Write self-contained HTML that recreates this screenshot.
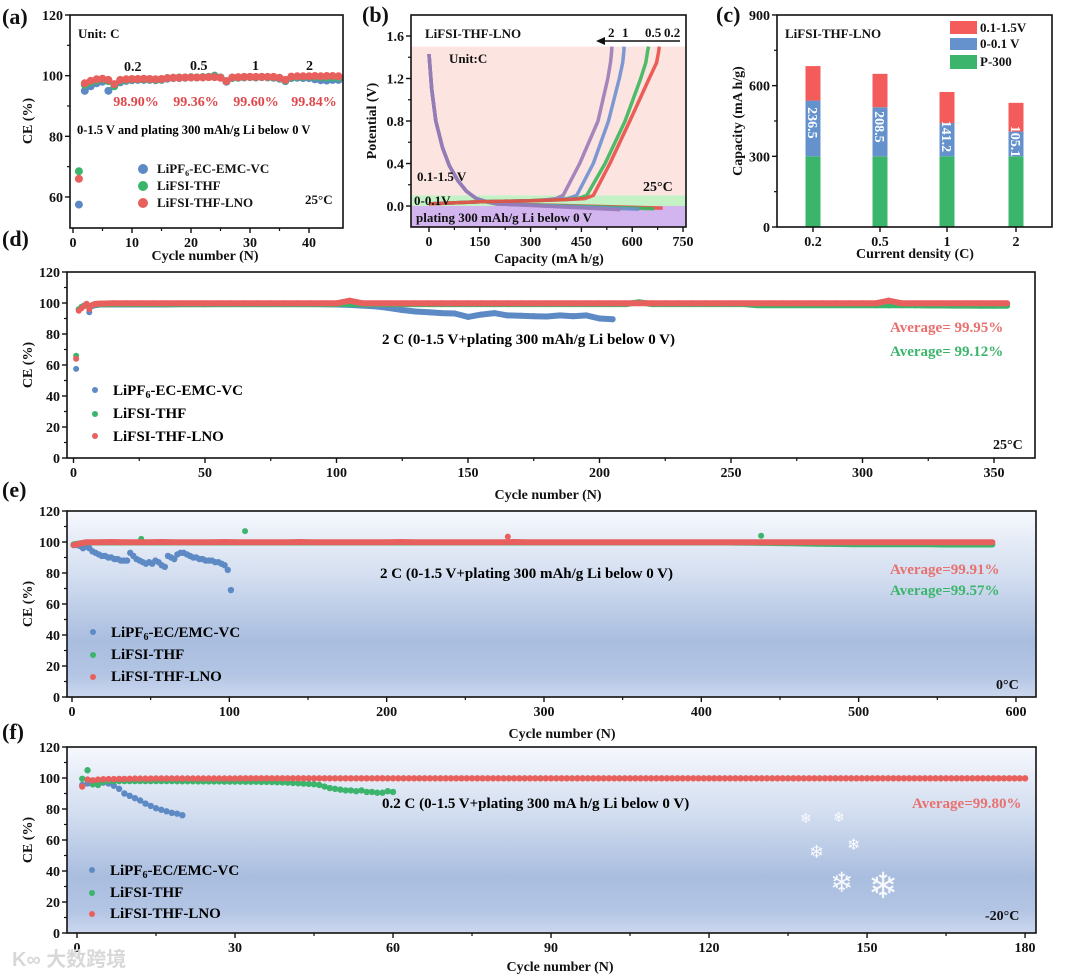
<!DOCTYPE html>
<html><head><meta charset="utf-8"><title>CE cycling figure</title>
<style>
html,body{margin:0;padding:0;background:#fff;}
svg{display:block;font-family:"Liberation Serif","Noto Serif CJK SC",serif;font-weight:bold;}
.t{font-size:14px;fill:#111;}
.s{font-size:13px;fill:#111;}
.pl{font-size:22px;fill:#111;}
</style></head>
<body>
<svg id="fig" width="1080" height="977" viewBox="0 0 1080 977" xmlns="http://www.w3.org/2000/svg">
<defs>
<linearGradient id="cold" x1="0" y1="0" x2="0" y2="1">
<stop offset="0" stop-color="#f6f8fd"/><stop offset="0.35" stop-color="#d3def0"/><stop offset="0.7" stop-color="#a9bddf"/><stop offset="0.88" stop-color="#b3c5e4"/><stop offset="1" stop-color="#cbd7ee"/>
</linearGradient>
</defs>
<rect x="67" y="511" width="969" height="186" fill="url(#cold)"/>
<rect x="67" y="747" width="969" height="186" fill="url(#cold)"/>
<!-- panel b bands -->
<rect x="411" y="46.6" width="275" height="148.8" fill="#fce4e1"/>
<rect x="411" y="195.4" width="275" height="10.6" fill="#c4f2c6"/>
<rect x="411" y="206" width="275" height="21" fill="#d2b4ee"/>
<g id="marks"></g>
<g id="axes"></g>

<!-- panel labels -->
<text class="pl" x="2" y="24">(a)</text>
<text class="pl" x="362" y="22">(b)</text>
<text class="pl" x="716" y="22">(c)</text>
<text class="pl" x="2" y="246">(d)</text>
<text class="pl" x="2" y="497">(e)</text>
<text class="pl" x="2" y="739">(f)</text>

<!-- panel a text -->
<text class="s" x="78" y="38">Unit: C</text>
<text class="t" x="124" y="71">0.2</text>
<text class="t" x="190" y="70">0.5</text>
<text class="t" x="252" y="70">1</text>
<text class="t" x="306" y="70">2</text>
<g font-size="14" fill="#e0474a" text-anchor="middle">
<text x="136" y="106">98.90%</text>
<text x="196" y="106">99.36%</text>
<text x="256" y="106">99.60%</text>
<text x="314" y="106">99.84%</text>
</g>
<text x="77" y="134" font-size="12.5">0-1.5 V and plating 300 mAh/g Li below 0 V</text>
<circle cx="143" cy="169" r="5" fill="#5d8ac4"/>
<circle cx="143" cy="186" r="5" fill="#3cb56c"/>
<circle cx="143" cy="203" r="5" fill="#e8605e"/>
<text class="s" x="157" y="173">LiPF<tspan font-size="8" dy="3">6</tspan><tspan dy="-3">-EC-EMC-VC</tspan></text>
<text class="s" x="157" y="190">LiFSI-THF</text>
<text class="s" x="157" y="207">LiFSI-THF-LNO</text>
<text class="s" x="305" y="204">25°C</text>
<text class="t" text-anchor="middle" transform="translate(32,121) rotate(-90)">CE (%)</text>
<text class="t" x="205" y="260" text-anchor="middle">Cycle number (N)</text>

<!-- panel b text -->
<text class="s" x="425" y="38">LiFSI-THF-LNO</text>
<text class="s" x="449" y="63" fill="#5a2a22">Unit:C</text>
<line x1="680" y1="41" x2="603" y2="41" stroke="#111" stroke-width="1.5"/>
<polygon points="596,41 605,37 605,45" fill="#111"/>
<text class="s" x="608" y="37">2</text>
<text class="s" x="622" y="37">1</text>
<text class="s" x="645" y="37">0.5</text>
<text class="s" x="664" y="37">0.2</text>
<text class="s" x="417" y="181">0.1-1.5 V</text>
<text class="t" x="643" y="191">25°C</text>
<text class="s" x="414" y="205" fill="#1a7a2a">0-0.1V</text>
<text class="s" x="416" y="222" fill="#4a2a7a">plating 300 mAh/g Li below 0 V</text>
<text class="t" text-anchor="middle" transform="translate(376,121) rotate(-90)">Potential (V)</text>
<text class="t" x="549" y="263" text-anchor="middle">Capacity (mA h/g)</text>

<!-- panel c text -->
<text class="s" x="785" y="38">LiFSI-THF-LNO</text>
<rect x="950" y="21" width="27" height="13" fill="#f45b5b"/>
<rect x="950" y="38" width="27" height="12" fill="#6592cd"/>
<rect x="950" y="55" width="27" height="14" fill="#3cb56c"/>
<text class="s" x="980" y="32">0.1-1.5V</text>
<text class="s" x="980" y="48">0-0.1 V</text>
<text class="s" x="980" y="66">P-300</text>
<text class="t" text-anchor="middle" transform="translate(742,121) rotate(-90)">Capacity (mA h/g)</text>
<text class="t" x="915" y="258" text-anchor="middle">Current density (C)</text>

<!-- panel d text -->
<text font-size="15" x="382" y="344">2 C (0-1.5 V+plating 300 mAh/g Li below 0 V)</text>
<text font-size="15" x="890" y="332" fill="#e8706e">Average= 99.95%</text>
<text font-size="15" x="890" y="356" fill="#3cb56c">Average= 99.12%</text>
<text class="t" x="993" y="449">25°C</text>
<circle cx="95" cy="390" r="3" fill="#5d8ac4"/>
<circle cx="95" cy="414" r="3" fill="#3cb56c"/>
<circle cx="95" cy="436" r="3" fill="#e8605e"/>
<text font-size="15" x="113" y="395">LiPF<tspan font-size="10" dy="3">6</tspan><tspan dy="-3">-EC-EMC-VC</tspan></text>
<text font-size="15" x="113" y="418">LiFSI-THF</text>
<text font-size="15" x="113" y="441">LiFSI-THF-LNO</text>
<text class="t" text-anchor="middle" transform="translate(32,365) rotate(-90)">CE (%)</text>
<text class="t" x="548" y="499" text-anchor="middle">Cycle number (N)</text>

<!-- panel e text -->
<text font-size="15" x="380" y="578">2 C (0-1.5 V+plating 300 mAh/g Li below 0 V)</text>
<text font-size="15" x="890" y="574" fill="#e8706e">Average=99.91%</text>
<text font-size="15" x="890" y="595" fill="#3cb56c">Average=99.57%</text>
<text class="t" x="996" y="689">0°C</text>
<circle cx="93" cy="632" r="3" fill="#5d8ac4"/>
<circle cx="93" cy="655" r="3" fill="#3cb56c"/>
<circle cx="93" cy="677" r="3" fill="#e8605e"/>
<text font-size="15" x="111" y="637">LiPF<tspan font-size="10" dy="3">6</tspan><tspan dy="-3">-EC/EMC-VC</tspan></text>
<text font-size="15" x="111" y="659">LiFSI-THF</text>
<text font-size="15" x="111" y="681">LiFSI-THF-LNO</text>
<text class="t" text-anchor="middle" transform="translate(32,604) rotate(-90)">CE (%)</text>
<text class="t" x="562" y="738" text-anchor="middle">Cycle number (N)</text>

<!-- panel f text -->
<text font-size="15" x="382" y="808">0.2 C (0-1.5 V+plating 300 mA h/g Li below 0 V)</text>
<text font-size="15" x="912" y="808" fill="#e8706e">Average=99.80%</text>
<text class="t" x="985" y="920">-20°C</text>
<circle cx="92" cy="870" r="3" fill="#5d8ac4"/>
<circle cx="92" cy="893" r="3" fill="#3cb56c"/>
<circle cx="92" cy="914" r="3" fill="#e8605e"/>
<text font-size="15" x="110" y="875">LiPF<tspan font-size="10" dy="3">6</tspan><tspan dy="-3">-EC/EMC-VC</tspan></text>
<text font-size="15" x="110" y="897">LiFSI-THF</text>
<text font-size="15" x="110" y="918">LiFSI-THF-LNO</text>
<text class="t" text-anchor="middle" transform="translate(32,840) rotate(-90)">CE (%)</text>
<text class="t" x="560" y="971" text-anchor="middle">Cycle number (N)</text>
<g fill="#ffffff" font-family="DejaVu Sans, sans-serif" font-weight="normal" opacity="0.9">
<text x="800" y="823" font-size="14">❄</text>
<text x="833" y="822" font-size="14">❄</text>
<text x="809" y="858" font-size="18">❄</text>
<text x="847" y="850" font-size="16">❄</text>
<text x="830" y="892" font-size="28">❄</text>
<text x="868" y="898" font-size="36">❄</text>
</g>
<text x="12" y="966" font-size="20" fill="#d8d8d8" font-family="Liberation Sans, Noto Sans CJK SC, sans-serif">K∞ 大数跨境</text>
</svg>

<script>
// ---------- data ----------
// (a) rate test, cycles 1..45
const aPF6 = [57.5,95,96.5,97.5,98,95,96.8,97.8,98.3,98.5,98.6,98.6,98.6,98.5,98.6,99,99.2,99.2,99.3,99.4,99.4,99.5,99.6,100,99.4,98,99.2,99.3,99.4,99.5,99.4,99.5,99.4,99.3,99,98.2,99.2,99.3,99.2,99.2,98.8,98.5,98.4,98.6,98.6];
const aTHF = [68.5,97,97.8,98.4,98.8,98.2,96.5,98.3,98.6,98.7,98.8,98.8,98.8,98.6,98.7,99.2,99.3,99.4,99.4,99.5,99.4,99.5,99.6,99.8,99.4,98.2,99.3,99.4,99.5,99.6,99.5,99.6,99.5,99.5,99.2,98.4,99.5,99.6,99.6,99.7,99.6,99.5,99.4,99.4,99.4];
const aLNO = [66,97.5,98.3,98.8,99,98.6,97.2,98.6,98.8,98.9,98.9,99,98.9,98.8,98.9,99.2,99.3,99.3,99.4,99.4,99.4,99.4,99.5,99.5,99.3,98.2,99.4,99.5,99.6,99.6,99.6,99.6,99.6,99.6,99.3,98.6,99.7,99.8,99.8,99.8,99.9,99.8,99.9,99.9,99.8];

// (b) voltage profiles
const bRates = ['0.2','0.5','1','2'];
const bDisCap = [0,8,20,40,60,85,110,140,170,200];
const bDisV = [1.43,1.1,0.8,0.55,0.38,0.24,0.14,0.07,0.04,0.02];
const bPlateEnd = [690,665,620,565];
const bPlateV = [-0.02,-0.025,-0.03,-0.035];
const bChgV = [0.02,0.04,0.05,0.06,0.07,0.1,0.4,0.8,1.2,1.35,1.45,1.5];
const bChgCap02 = [0,150,300,400,460,485,534,593,650,672,678,680];
const bChgCap05 = [0,150,300,400,440,466,520,579,625,640,645,648];
const bChgCap1 = [0,150,300,380,410,436,485,530,562,572,575,576];
const bChgCap2 = [0,150,300,350,375,396,445,499,528,536,539,540];

// (c) capacity breakdown
const cRates = ['0.2','0.5','1','2'];
const cP300 = [300,300,300,300];
const cLow = [236.5,208.5,141.2,105.1];
const cTotal = [683,650,573,527];

// (d) 25°C, cycles 1..10 then every 5 cycles from 15
const dLNO = [64,95,96.5,98,99.5,96,98.5,99.3,99.5,99.6,
 99.8,99.8,99.8,99.8,99.8,99.8,99.8,99.8,99.8,99.8,99.8,99.8,99.8,99.8,99.8,99.8,99.8,99.8,101.5,99.8,
 99.8,99.8,99.8,99.8,99.8,99.8,99.8,99.8,99.8,99.8,99.8,99.8,99.8,99.8,99.8,99.8,99.8,99.8,99.8,99.8,
 99.8,99.8,99.8,99.8,99.8,99.8,99.8,99.8,99.8,99.8,99.8,99.8,99.8,99.8,99.8,99.8,99.8,99.8,99.8,101.5,
 99.8,99.8,99.8,99.8,99.8,99.8,99.8,99.8,99.8];
const dTHF = [66,96,97.5,98.5,99,97,98.5,99,99.1,99.2,
 99.3,99.3,99.3,99.3,99.3,99.3,99.3,99.3,99.3,99.3,99.3,99.3,99.3,99.3,99.3,99.3,99.3,99.3,99.3,99.3,
 99.3,99.3,99.3,99.3,99.3,99.3,99.3,99.3,99.3,99.3,99.3,99.3,99.3,99.3,99.3,99.3,99.3,99.3,99.3,99.3,
 100.5,99.3,99.3,99.3,99.3,99.3,99.3,99.3,99.3,98.6,98.6,98.6,98.6,98.6,98.6,98.6,98.6,98.6,98.5,98.5,
 98.5,98.5,98.4,98.4,98.3,98.3,98.2,98.2,98.2];
const dPF6 = [57.5,96,97,98,98.5,94,98,98.5,98.8,99,
 99,99,99,99,99,99.2,99.2,99.2,99.3,99.3,99.3,99.3,99.3,99.3,99.3,99.3,99.2,99,
 98.8,98.3,97.8,96.8,95.5,94.5,94,93.5,93.2,91,92.5,93.5,92,91.8,91.5,91.3,92,91.5,92,90,89.5];

// (e) 0°C, LNO/THF every 8 cycles from 1; PF6 every 2 cycles from 1
const eLNO = [98,99.9,99.9,100,99.9,99.9,99.9,100,99.9,99.9,99.9,99.9,100,99.9,99.9,99.9,99.9,99.9,100,99.9,
 99.9,99.9,99.9,99.9,99.9,99.9,100,99.9,99.9,99.9,99.9,99.9,99.9,99.9,99.9,100,99.9,99.9,99.9,99.9,
 99.9,99.9,99.9,99.9,99.9,99.9,99.9,99.9,99.9,99.9,99.9,99.9,99.9,99.9,99.9,99.9,99.9,99.9,99.9,99.9,
 99.9,99.9,99.9,99.8,99.8,99.8,99.8,99.8,99.8,99.8,99.8,99.8,99.8,99.8];
const eTHF = [98.5,99.7,99.7,99.7,99.7,99.7,99.7,99.7,99.7,99.7,99.7,99.7,99.7,99.7,99.7,99.7,99.7,99.7,99.7,99.7,
 99.7,99.7,99.7,99.7,99.7,99.7,99.7,99.7,99.7,99.7,99.7,99.7,99.7,99.7,99.7,99.7,99.7,99.7,99.7,99.7,
 99.7,99.7,99.7,99.7,99.7,99.7,99.7,99.7,99.7,99.7,99.7,99.7,99.7,99.6,99.5,99.4,99.3,99.2,99,98.9,
 98.8,98.7,98.6,98.6,98.5,98.5,98.5,98.5,98.5,98.4,98.4,98.4,98.4,98.4];
const ePF6 = [98,98,97.5,96,97,96,94,93,92,91,91,90,90,89,89,88,88,88,93,91,89,88,87,86,87,86,88,87,85,84,91,90,89,92,93,93,92,91,90,90,89,89,88,88,88,87,87,86,85,82,69];
const eOutLNOCycles = [277];
const eOutLNOValues = [103.5];
const eOutTHFCycles = [44,110,438];
const eOutTHFValues = [102,107,104];

// (f) -20°C, every cycle from 1
const fLNO = [94.5,99,98.5,99,99.2,99.3,99.3,99.4,99.4,99.5,
 99.6,99.6,99.6,99.6,99.7,99.7,99.7,99.7,99.7,99.7,99.7,99.7,99.7,99.7,99.7,99.7,99.7,99.7,99.7,99.7,
 99.8,99.8,99.8,99.8,99.8,99.8,99.8,99.8,99.8,99.8,99.8,99.8,99.8,99.8,99.8,99.8,99.8,99.8,99.8,99.8,
 99.8,99.8,99.8,99.8,99.8,99.8,99.8,99.8,99.8,99.8,99.8,99.8,99.8,99.8,99.8,99.8,99.8,99.8,99.8,99.8,
 99.8,99.8,99.8,99.8,99.8,99.8,99.8,99.8,99.8,99.8,99.8,99.8,99.8,99.8,99.8,99.8,99.8,99.8,99.8,99.8,
 99.8,99.8,99.8,99.8,99.8,99.8,99.8,99.8,99.8,99.8,99.8,99.8,99.8,99.8,99.8,99.8,99.8,99.8,99.8,99.8,
 99.8,99.8,99.8,99.8,99.8,99.8,99.8,99.8,99.8,99.8,99.8,99.8,99.8,99.8,99.8,99.8,99.8,99.8,99.8,99.8,
 99.8,99.8,99.8,99.8,99.8,99.8,99.8,99.8,99.8,99.8,99.8,99.8,99.8,99.8,99.8,99.8,99.8,99.8,99.8,99.8,
 99.8,99.8,99.8,99.8,99.8,99.8,99.8,99.8,99.8,99.8,99.8,99.8,99.8,99.8,99.8,99.8,99.8,99.8,99.8,99.8,
 99.8,99.8,99.8,99.8,99.8,99.8,99.8,99.8,99.8,99.8];
const fTHF = [99.5,105,96,95.5,97.5,98,98,98,98,98,98,98,98,98,98,98,98,98,97.9,97.9,
 97.9,97.9,97.8,97.8,97.8,97.8,97.8,97.7,97.7,97.7,97.7,97.6,97.6,97.6,97.5,97.5,97.4,97.3,97.2,97,
 96.8,96.6,96.4,96.2,96,95.5,94.5,93.5,93,92.5,92,92,91.5,92,91,91,90.5,90.5,91.5,91];
const fPF6 = [95.5,96.5,96,96.5,97,96.5,95,93,90,88.5,87,85.5,83.5,82,80.5,79.5,78.5,77.5,77,76];

// ---------- helpers ----------
const NS = 'http://www.w3.org/2000/svg';
const marks = document.getElementById('marks');
const axes = document.getElementById('axes');
function mk(tag, attrs, parent){ const e=document.createElementNS(NS,tag); for(const k in attrs) e.setAttribute(k,attrs[k]); (parent||marks).appendChild(e); return e; }
const BLUE='#5d8ac4', GREEN='#3cb56c', RED='#e8605e';

// scales
const P = {
 a:{x0:70,x1:343,y0:15,y1:228, sx:c=>73+c*5.9, sy:v=>15+(120-v)*3.033},
 b:{x0:411,x1:686,y0:15,y1:227, sx:c=>429+c*0.3387, sy:v=>206-v*106.25},
 c:{x0:777,x1:1052,y0:15,y1:227, sy:v=>227-v*0.2356},
 d:{x0:67,x1:1035,y0:272,y1:458, sx:c=>73.5+c*2.63, sy:v=>458-v*1.55},
 e:{x0:67,x1:1036,y0:511,y1:697, sx:c=>72+c*1.5733, sy:v=>697-v*1.55},
 f:{x0:67,x1:1036,y0:747,y1:933, sx:c=>77+c*5.267, sy:v=>933-v*1.55}
};

function scatter(p, vals, cycleOf, color, r, name){
 for(let i=0;i<vals.length;i++){
  const c = mk('circle',{cx:p.sx(cycleOf(i)),cy:p.sy(vals[i]),r:r,fill:color});
  
  
 }
}
function band(p, vals, cycleOf, color, w, name, from){
 const pts = [];
 for(let i=from;i<vals.length;i++) pts.push(p.sx(cycleOf(i)).toFixed(1)+','+p.sy(vals[i]).toFixed(1));
 const l = mk('polyline',{points:pts.join(' '),fill:'none',stroke:color,'stroke-width':w,'stroke-linejoin':'round','stroke-linecap':'round'});
 
 
}
function frame(p, name){
 const r = mk('rect',{x:p.x0,y:p.y0,width:p.x1-p.x0,height:p.y1-p.y0,fill:'none',stroke:'#111','stroke-width':1.6},axes);
 
 
}
function xTicks(p, vals, labels, minorStep, fs, name){
 for(let i=0;i<vals.length;i++){
  const x=p.sx(vals[i]);
  const t = mk('line',{x1:x,x2:x,y1:p.y1,y2:p.y1+5,stroke:'#111','stroke-width':1.4},axes);
  
  
  const tx = mk('text',{x:x,y:p.y1+19,'text-anchor':'middle','font-size':fs,fill:'#111'},axes);
  tx.textContent = labels[i];
  
  
  if(minorStep && i<vals.length-1){
   const xm=p.sx(vals[i]+minorStep);
   const m = mk('line',{x1:xm,x2:xm,y1:p.y1,y2:p.y1+3,stroke:'#111','stroke-width':1.2},axes);
   
   
  }
 }
}
function yTicks(p, vals, labels, minorStep, fs, name){
 for(let i=0;i<vals.length;i++){
  const y=p.sy(vals[i]);
  const t = mk('line',{x1:p.x0-5,x2:p.x0,y1:y,y2:y,stroke:'#111','stroke-width':1.4},axes);
  
  
  const tx = mk('text',{x:p.x0-7,y:y+5,'text-anchor':'end','font-size':fs,fill:'#111'},axes);
  tx.textContent = labels[i];
  
  
  if(minorStep && i<vals.length-1){
   const ym=p.sy(vals[i]+minorStep);
   const m = mk('line',{x1:p.x0-3,x2:p.x0,y1:ym,y2:ym,stroke:'#111','stroke-width':1.2},axes);
   
   
  }
 }
}

// ---------- panel a ----------
const aTickX=[0,10,20,30,40], aTickXL=['0','10','20','30','40'];
const aTickY=[60,80,100,120], aTickYL=['60','80','100','120'];
scatter(P.a, aPF6, i=>i+1, BLUE, 4, 'pf6-point-a');
scatter(P.a, aTHF, i=>i+1, GREEN, 4, 'thf-point-a');
scatter(P.a, aLNO, i=>i+1, RED, 4, 'lno-point-a');
frame(P.a,'plot-frame-a');
xTicks(P.a, aTickX, aTickXL, 5, 14, 'x-axis-a');
yTicks(P.a, aTickY, aTickYL, 10, 14, 'y-axis-a');

// ---------- panel b ----------
const bColors = ['#ea4e48','#3cb55a','#6f8fcf','#9a7ab8'];
const bChg = [bChgCap02,bChgCap05,bChgCap1,bChgCap2];
for(let k=0;k<bRates.length;k++){
 const dis = bDisCap.map((c,i)=>P.b.sx(c).toFixed(1)+','+P.b.sy(bDisV[i]).toFixed(1));
 dis.push(P.b.sx(bPlateEnd[k]).toFixed(1)+','+P.b.sy(bPlateV[k]).toFixed(1));
 const l1 = mk('polyline',{points:dis.join(' '),fill:'none',stroke:bColors[k],'stroke-width':3.5,'stroke-linejoin':'round',opacity:0.9});
 
 
}
for(let k=bRates.length-1;k>=0;k--){
 const pts = bChg[k].map((c,i)=>P.b.sx(c).toFixed(1)+','+P.b.sy(bChgV[i]).toFixed(1)).join(' ');
 const l2 = mk('polyline',{points:pts,fill:'none',stroke:bColors[k],'stroke-width':3.5,'stroke-linejoin':'round',opacity:0.9});
 
 
}
const bTickX=[0,150,300,450,600,750], bTickXL=['0','150','300','450','600','750'];
const bTickY=[0,0.4,0.8,1.2,1.6], bTickYL=['0.0','0.4','0.8','1.2','1.6'];
frame(P.b,'plot-frame-b');
xTicks(P.b, bTickX, bTickXL, 75, 14, 'x-axis-b');
yTicks(P.b, bTickY, bTickYL, 0.2, 14, 'y-axis-b');

// ---------- panel c ----------
const cX = [813,880,947,1016], cW = 15;
for(let i=0;i<cRates.length;i++){
 const g = mk('rect',{x:cX[i]-cW/2,y:P.c.sy(cP300[i]),width:cW,height:P.c.sy(0)-P.c.sy(cP300[i]),fill:'#3cb56c'});
 
 
 const top2 = cP300[i]+cLow[i];
 const b = mk('rect',{x:cX[i]-cW/2,y:P.c.sy(top2),width:cW,height:P.c.sy(cP300[i])-P.c.sy(top2),fill:'#6592cd'});
 
 
 const r = mk('rect',{x:cX[i]-cW/2,y:P.c.sy(cTotal[i]),width:cW,height:P.c.sy(top2)-P.c.sy(cTotal[i]),fill:'#f45b5b'});
 
 
 const ly = P.c.sy(cP300[i]+cLow[i]*0.6);
 const t = mk('text',{x:cX[i],y:ly,'text-anchor':'middle','font-size':14,fill:'#ffffff',transform:'rotate(90 '+cX[i]+' '+ly+')',dy:'5'});
 t.textContent = cLow[i].toFixed(1);
 
 
}
frame(P.c,'plot-frame-c');
P.c.sx = v=>v;
xTicks(P.c, cX, cRates, 0, 14, 'x-axis-c');
const cTickY=[0,300,600,900], cTickYL=['0','300','600','900'];
yTicks(P.c, cTickY, cTickYL, 150, 14, 'y-axis-c');

// ---------- panel d ----------
const dCyc = i => i<10 ? i+1 : 15+(i-10)*5;
band(P.d, dPF6, dCyc, BLUE, 6, 'pf6-band-d', 6);
scatter(P.d, dPF6, dCyc, BLUE, 3, 'pf6-point-d');
band(P.d, dTHF, dCyc, GREEN, 6, 'thf-band-d', 6);
scatter(P.d, dTHF, dCyc, GREEN, 3, 'thf-point-d');
band(P.d, dLNO, dCyc, RED, 6, 'lno-band-d', 6);
scatter(P.d, dLNO, dCyc, RED, 3, 'lno-point-d');
frame(P.d,'plot-frame-d');
const dTickX=[0,50,100,150,200,250,300,350], dTickXL=['0','50','100','150','200','250','300','350'];
const ceTickY=[0,20,40,60,80,100,120], ceTickYL=['0','20','40','60','80','100','120'];
xTicks(P.d, dTickX, dTickXL, 25, 14, 'x-axis-d');
yTicks(P.d, ceTickY, ceTickYL, 10, 14, 'y-axis-d');

// ---------- panel e ----------
const eCyc = i => 1+i*8;
scatter(P.e, ePF6, i=>1+i*2, BLUE, 3.2, 'pf6-point-e');
band(P.e, eTHF, eCyc, GREEN, 6, 'thf-band-e', 0);
scatter(P.e, eOutTHFValues, i=>eOutTHFCycles[i], GREEN, 3, 'thf-outlier-e');
band(P.e, eLNO, eCyc, RED, 6, 'lno-band-e', 0);
scatter(P.e, eOutLNOValues, i=>eOutLNOCycles[i], RED, 3, 'lno-outlier-e');
frame(P.e,'plot-frame-e');
const eTickX=[0,100,200,300,400,500,600], eTickXL=['0','100','200','300','400','500','600'];
xTicks(P.e, eTickX, eTickXL, 50, 14, 'x-axis-e');
yTicks(P.e, ceTickY, ceTickYL, 10, 14, 'y-axis-e');

// ---------- panel f ----------
scatter(P.f, fPF6, i=>i+1, BLUE, 3.2, 'pf6-point-f');
scatter(P.f, fTHF, i=>i+1, GREEN, 3.2, 'thf-point-f');
scatter(P.f, fLNO, i=>i+1, RED, 3.2, 'lno-point-f');
frame(P.f,'plot-frame-f');
const fTickX=[0,30,60,90,120,150,180], fTickXL=['0','30','60','90','120','150','180'];
xTicks(P.f, fTickX, fTickXL, 15, 14, 'x-axis-f');
yTicks(P.f, ceTickY, ceTickYL, 10, 14, 'y-axis-f');
</script>
</body></html>
